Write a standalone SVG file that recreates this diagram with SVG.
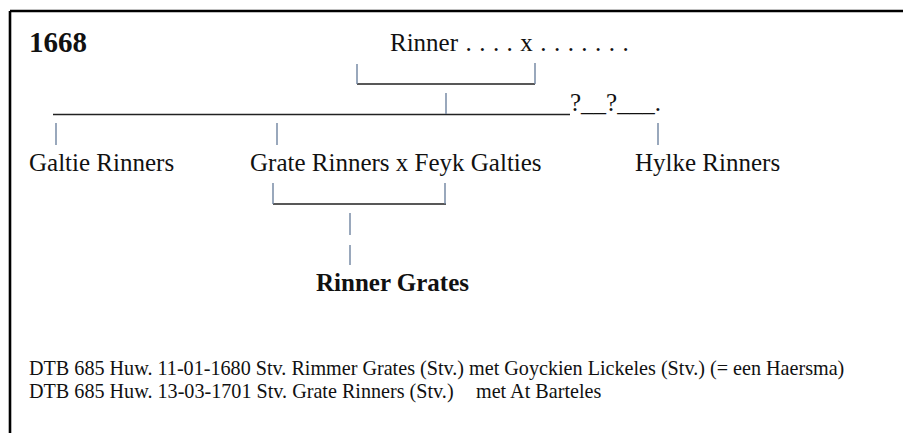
<svg xmlns="http://www.w3.org/2000/svg" width="903" height="433" viewBox="0 0 903 433">
<style>
text{font-family:"Liberation Serif","Times New Roman",serif;fill:#111}
.n{font-size:25px}
.b{font-weight:bold}
.s{font-size:20.15px}
.h{stroke:#222;stroke-width:1.4;fill:none}
.v{stroke:#6f84a0;stroke-width:1.4;fill:none}
</style>
<rect width="903" height="433" fill="#fff"/>
<path d="M10 11H903M10 11V433" stroke="#000" stroke-width="2.6" fill="none"/>
<g id="title"><text x="29" y="52" font-size="29" class="b">1668</text></g>
<g id="rinner"><text x="390" y="51" class="n" word-spacing="1.2">Rinner . . . . x . . . . . . .</text></g>
<g id="galtie"><text x="29" y="171" class="n">Galtie Rinners</text></g>
<g id="grate-feyk"><text x="250" y="171" class="n">Grate Rinners x Feyk Galties</text></g>
<g id="hylke"><text x="635" y="171" class="n">Hylke Rinners</text></g>
<g id="rinner-grates"><text x="316" y="291" class="n b">Rinner Grates</text></g>
<g id="unknown"><text x="570" y="111" class="n">?__?___.</text></g>
<g id="connectors">
<path class="h" d="M357 84H535M53 114.5H570M273 204H446"/>
<path class="v" d="M357 64V84M535 63V84M446 93V114M56 123V145M277 123V145M658 123V145M273 183V204M445 183V204M350 213V235M350 245V265"/>
</g>
<g id="notes">
<text x="29" y="375" class="s">DTB 685 Huw. 11-01-1680 Stv. Rimmer Grates (Stv.) met Goyckien Lickeles (Stv.) (= een Haersma)</text>
<text x="29" y="398" class="s">DTB 685 Huw. 13-03-1701 Stv. Grate Rinners (Stv.)<tspan x="476">met At Barteles</tspan></text>
</g>
</svg>
